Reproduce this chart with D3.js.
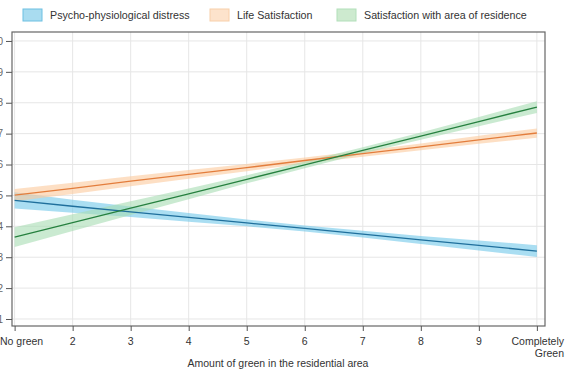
<!DOCTYPE html>
<html>
<head>
<meta charset="utf-8">
<script src="https://cdn.jsdelivr.net/npm/d3@7"></script>
<style>
  body { margin: 0; background: #fff; }
  svg { display: block; font-family: "Liberation Sans", Arial, sans-serif; }
</style>
</head>
<body>
<svg id="chart" width="566" height="374"></svg>
<script>
// x categories (amount of green), 1..10
var greenLevels = [1, 2, 3, 4, 5, 6, 7, 8, 9, 10];
var xTickLabels = ["No green", "2", "3", "4", "5", "6", "7", "8", "9", "Completely\nGreen"];
var yTicks = [1, 2, 3, 4, 5, 6, 7, 8, 9, 10];

// predicted values
var distress     = [4.84, 4.65, 4.47, 4.29, 4.11, 3.93, 3.75, 3.56, 3.38, 3.20];
var distressCI   = [0.26, 0.21, 0.17, 0.14, 0.11, 0.10, 0.11, 0.13, 0.16, 0.19];
var lifeSat      = [5.01, 5.23, 5.46, 5.68, 5.90, 6.13, 6.35, 6.57, 6.80, 7.02];
var lifeSatCI    = [0.20, 0.18, 0.16, 0.14, 0.12, 0.10, 0.10, 0.11, 0.13, 0.15];
var areaSat      = [3.65, 4.12, 4.59, 5.05, 5.52, 5.99, 6.46, 6.92, 7.39, 7.86];
var areaSatCI    = [0.32, 0.27, 0.22, 0.17, 0.13, 0.11, 0.10, 0.12, 0.15, 0.19];

var series = [
  { name: "Psycho-physiological distress", vals: distress, ci: distressCI,
    fill: "#72c8ea", line: "#1f6f9c", swatch: "#a9dcf0", border: "#6cc0e2" },
  { name: "Life Satisfaction", vals: lifeSat, ci: lifeSatCI,
    fill: "#fcc99d", line: "#e37d3c", swatch: "#fde3cc", border: "#f8cfaa" },
  { name: "Satisfaction with area of residence", vals: areaSat, ci: areaSatCI,
    fill: "#a6dcb3", line: "#26803f", swatch: "#cdeacf", border: "#b2dfba" }
];

var svg = d3.select("#chart");
var pLeft = 12, pRight = 545, pTop = 32, pBottom = 326;

var x = d3.scaleLinear().domain([0.955, 10.14]).range([pLeft, pRight]);
var y = d3.scaleLinear().domain([0.773, 10.29]).range([pBottom, pTop]);

// grid
svg.append("g").selectAll("line").data(yTicks).enter().append("line")
  .attr("x1", pLeft).attr("x2", pRight)
  .attr("y1", function(d) { return y(d); }).attr("y2", function(d) { return y(d); })
  .attr("stroke", "#e6e6e6").attr("stroke-width", 1);
svg.append("g").selectAll("line").data(greenLevels).enter().append("line")
  .attr("y1", pTop).attr("y2", pBottom)
  .attr("x1", function(d) { return x(d); }).attr("x2", function(d) { return x(d); })
  .attr("stroke", "#e6e6e6").attr("stroke-width", 1);

// bands and lines
series.forEach(function(s) {
  var pts = greenLevels.map(function(g, i) { return { g: g, v: s.vals[i], c: s.ci[i] }; });
  var area = d3.area()
    .x(function(d) { return x(d.g); })
    .y0(function(d) { return y(d.v - d.c); })
    .y1(function(d) { return y(d.v + d.c); });
  svg.append("path").datum(pts).attr("d", area)
    .attr("fill", s.fill).attr("fill-opacity", 0.6);
});
series.forEach(function(s) {
  var pts = greenLevels.map(function(g, i) { return { g: g, v: s.vals[i] }; });
  var line = d3.line().x(function(d) { return x(d.g); }).y(function(d) { return y(d.v); });
  svg.append("path").datum(pts).attr("d", line)
    .attr("fill", "none").attr("stroke", s.line).attr("stroke-width", 1.3);
});

// frame
svg.append("rect").attr("x", pLeft).attr("y", pTop)
  .attr("width", pRight - pLeft).attr("height", pBottom - pTop)
  .attr("fill", "none").attr("stroke", "#666").attr("stroke-width", 1.2);

// y axis (labels run off the left edge in the original)
var yAxis = d3.axisLeft(y).tickValues(yTicks).tickSize(6).tickPadding(3);
var yg = svg.append("g").attr("transform", "translate(" + pLeft + ",0)").call(yAxis);
yg.select(".domain").remove();
yg.selectAll("line").attr("stroke", "#555");
yg.selectAll("text").attr("font-size", 10).attr("fill", "#666")
  .attr("font-family", "Liberation Sans, Arial, sans-serif");

// x axis
var xAxis = d3.axisBottom(x).tickValues(greenLevels).tickSize(5).tickFormat("");
var xg = svg.append("g").attr("transform", "translate(0," + pBottom + ")").call(xAxis);
xg.select(".domain").remove();
xg.selectAll("line").attr("stroke", "#555");

greenLevels.forEach(function(g, i) {
  var lines = xTickLabels[i].split("\n");
  var first = i === 0, last = i === greenLevels.length - 1;
  var tx = first ? 0 : (last ? 564 : x(g));
  var t = svg.append("text")
    .attr("x", tx).attr("y", 345)
    .attr("text-anchor", first ? "start" : (last ? "end" : "middle"))
    .attr("font-size", 10.5).attr("fill", "#333");
  lines.forEach(function(l, j) {
    t.append("tspan").attr("x", tx).attr("dy", j === 0 ? 0 : 12).text(l);
  });
});

svg.append("text").attr("x", 278).attr("y", 367).attr("text-anchor", "middle")
  .attr("font-size", 10.5).attr("fill", "#333")
  .text("Amount of green in the residential area");

// legend
var legendX = [23, 210, 337];
series.forEach(function(s, i) {
  svg.append("rect").attr("x", legendX[i]).attr("y", 9).attr("width", 19).attr("height", 12)
    .attr("fill", s.swatch).attr("stroke", s.border).attr("stroke-width", 1);
  svg.append("text").attr("x", legendX[i] + 27).attr("y", 19)
    .attr("font-size", 10.7).attr("fill", "#333").text(s.name);
});
</script>
</body>
</html>
